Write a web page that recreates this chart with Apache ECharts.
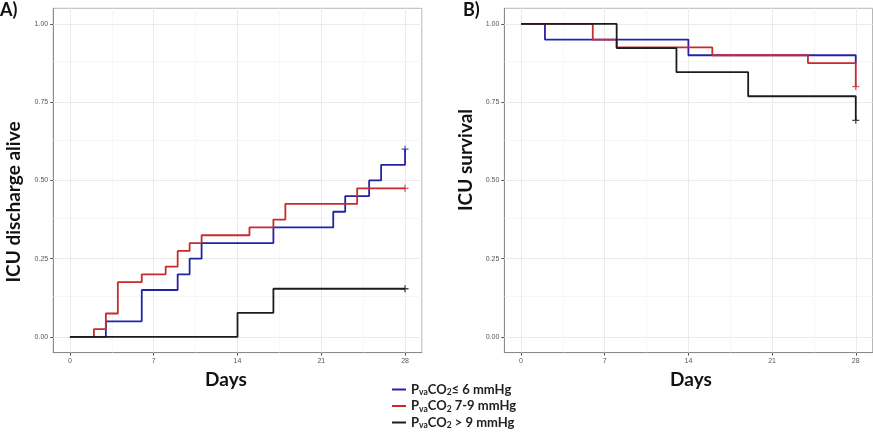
<!DOCTYPE html>
<html><head><meta charset="utf-8">
<script src="https://cdn.jsdelivr.net/npm/echarts@6/dist/echarts.min.js"></script>
<style>html,body{margin:0;padding:0;background:#fff}#c{width:873px;height:432px}</style>
</head><body><div id="c"></div>
<script>
// ---- data ----
const groups = ['PvaCO2 ≤ 6 mmHg', 'PvaCO2 7-9 mmHg', 'PvaCO2 > 9 mmHg'];
const groupSuffix = ['≤ 6 mmHg', ' 7-9 mmHg', ' > 9 mmHg'];
const groupColors = ['#2323a6', '#c92a2e', '#1c1c1c'];

// Panel A: ICU discharge alive (step times in days, cumulative proportion)
const dischargeDaysLow  = [0, 3, 6, 9, 10, 11, 17, 22, 23, 25, 26, 28];
const dischargeLow      = [0, 0.05, 0.15, 0.20, 0.25, 0.30, 0.35, 0.40, 0.45, 0.50, 0.55, 0.60];
const dischargeDaysMid  = [0, 2, 3, 4, 6, 8, 9, 10, 11, 15, 17, 18, 24, 28];
const dischargeMid      = [0, 0.025, 0.075, 0.175, 0.20, 0.225, 0.275, 0.30, 0.325, 0.35, 0.375, 0.425, 0.475, 0.475];
const dischargeDaysHigh = [0, 14, 17, 28];
const dischargeHigh     = [0, 0.077, 0.154, 0.154];

// Panel B: ICU survival
const survivalDaysLow  = [0, 2, 14, 28];
const survivalLow      = [1, 0.95, 0.90, 0.875];
const survivalDaysMid  = [0, 6, 8, 16, 24, 28];
const survivalMid      = [1, 0.95, 0.925, 0.90, 0.875, 0.80];
const survivalDaysHigh = [0, 8, 13, 19, 28];
const survivalHigh     = [1, 0.923, 0.846, 0.769, 0.692];

// visible censoring marks at end of follow-up (null = not visible)
const censorDay = 28;
const dischargeCensor = [0.60, 0.475, 0.154];
const survivalCensor  = [null, 0.80, 0.692];

// axis ticks
const xTicks = [0, 7, 14, 21, 28];
const xMinor = [3.5, 10.5, 17.5, 24.5];
const yTicks = [0, 0.25, 0.5, 0.75, 1];
const yMinor = [0.125, 0.375, 0.625, 0.875];

const panelLabels = ['A)', 'B)'];
const yTitles = ['ICU discharge alive', 'ICU survival'];
const xTitle = 'Days';

// ---- build ----
const chart = echarts.init(document.getElementById('c'), null, {renderer: 'canvas'});
const zip = (a, b) => a.map((v, i) => [v, b[i]]);
const plusPath = 'path://M-0.9,-5H0.9V-0.9H5V0.9H0.9V5H-0.9V0.9H-5V-0.9H-0.9Z';
const FONT = 'Lato';

const grids = [
  {left: 53.2, top: 8.3, width: 368.6, height: 344.3, show: true, borderColor: '#b8b8b8', borderWidth: 1, backgroundColor: '#fff'},
  {left: 504.3, top: 8.3, width: 368.2, height: 344.3, show: true, borderColor: '#b8b8b8', borderWidth: 1, backgroundColor: '#fff'}
];

function xAx(i) {
  return {type: 'value', gridIndex: i, min: -1.4, max: 29.4,
    axisLine: {show: true, onZero: false, lineStyle: {color: '#8a8a8a', width: 1}},
    axisTick: {show: true, customValues: xTicks, length: 3, lineStyle: {color: '#555'}},
    axisLabel: {customValues: xTicks, fontSize: 7, color: '#555', margin: 5, fontFamily: 'Liberation Sans'},
    splitLine: {show: false}};
}
function yAx(i) {
  return {type: 'value', gridIndex: i, min: -0.05, max: 1.05,
    axisLine: {show: true, onZero: false, lineStyle: {color: '#8a8a8a', width: 1}},
    axisTick: {show: true, customValues: yTicks, length: 3, lineStyle: {color: '#555'}},
    axisLabel: {customValues: yTicks, fontSize: 7, color: '#555', margin: 5, fontFamily: 'Liberation Sans',
      formatter: v => v.toFixed(2)},
    splitLine: {show: false}};
}

function gridSeries(i) {
  const major = {color: '#ebebeb', width: 1, type: 'solid'};
  const minor = {color: '#f2f2f2', width: 0.6, type: 'solid'};
  return {type: 'line', xAxisIndex: i, yAxisIndex: i, data: [], silent: true, z: 1,
    markLine: {silent: true, z: 1, symbol: ['none', 'none'], label: {show: false}, animation: false,
      data: [
        ...xMinor.map(v => ({xAxis: v, lineStyle: minor})),
        ...yMinor.map(v => ({yAxis: v, lineStyle: minor})),
        ...xTicks.map(v => ({xAxis: v, lineStyle: major})),
        ...yTicks.map(v => ({yAxis: v, lineStyle: major}))
      ]}};
}

const panelData = [
  {days: [dischargeDaysLow, dischargeDaysMid, dischargeDaysHigh], vals: [dischargeLow, dischargeMid, dischargeHigh], cens: dischargeCensor},
  {days: [survivalDaysLow, survivalDaysMid, survivalDaysHigh], vals: [survivalLow, survivalMid, survivalHigh], cens: survivalCensor}
];

const series = [];
panelData.forEach((p, i) => {
  series.push(gridSeries(i));
  groups.forEach((g, k) => {
    series.push({type: 'line', name: g, xAxisIndex: i, yAxisIndex: i, step: 'end', showSymbol: false,
      data: zip(p.days[k], p.vals[k]), z: 10 + k, animation: false,
      lineStyle: {color: groupColors[k], width: 1.8}, itemStyle: {color: groupColors[k]}});
  });
  groups.forEach((g, k) => {
    if (p.cens[k] == null) return;
    series.push({type: 'scatter', name: g + ' censor', xAxisIndex: i, yAxisIndex: i,
      data: [[censorDay, p.cens[k]]], symbol: plusPath, symbolSize: 7, z: 10 + k, animation: false,
      itemStyle: {color: groupColors[k]}});
  });
});

const titleStyle = {fontSize: 19, fontWeight: 'bold', fontFamily: FONT, fill: '#111'};
const graphic = [
  {type: 'text', x: 0, y: 1, style: Object.assign({text: panelLabels[0]}, titleStyle, {fontSize: 18})},
  {type: 'text', x: 463, y: 1, style: Object.assign({text: panelLabels[1]}, titleStyle, {fontSize: 18})},
  {type: 'text', x: 14, y: 202, rotation: Math.PI / 2, style: Object.assign({text: yTitles[0], align: 'center', verticalAlign: 'middle'}, titleStyle)},
  {type: 'text', x: 466, y: 160, rotation: Math.PI / 2, style: Object.assign({text: yTitles[1], align: 'center', verticalAlign: 'middle'}, titleStyle)},
  {type: 'text', x: 226, y: 380, style: Object.assign({text: xTitle, align: 'center', verticalAlign: 'middle'}, titleStyle)},
  {type: 'text', x: 691, y: 380, style: Object.assign({text: xTitle, align: 'center', verticalAlign: 'middle'}, titleStyle)}
];

chart.setOption({
  animation: false,
  backgroundColor: '#fff',
  grid: grids,
  xAxis: [xAx(0), xAx(1)],
  yAxis: [yAx(0), yAx(1)],
  series: series,
  graphic: graphic,
  legend: {
    orient: 'vertical', left: 392, top: 383, height: 60, padding: 0,
    itemWidth: 14, itemHeight: 2, itemGap: 2.5,
    icon: 'rect', data: groups, selectedMode: false,
    formatter: name => {
      const k = groups.indexOf(name);
      return '{p|P}{s|va}{p|CO}{s|2}{p|' + groupSuffix[k] + '}';
    },
    textStyle: {
      rich: {
        p: {fontSize: 13, fontWeight: 'bold', fontFamily: FONT, color: '#222', lineHeight: 15},
        s: {fontSize: 8.5, fontWeight: 'bold', fontFamily: FONT, color: '#222', lineHeight: 11, verticalAlign: 'bottom'}
      }
    }
  }
});
</script>
</body></html>
